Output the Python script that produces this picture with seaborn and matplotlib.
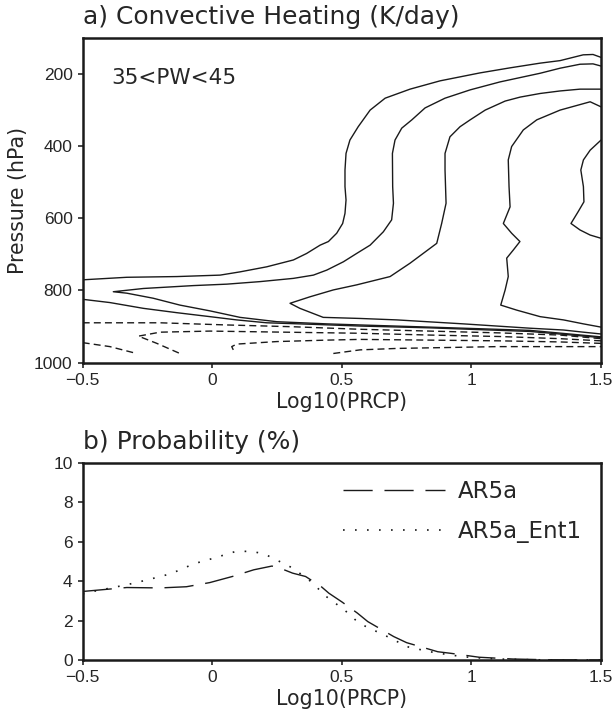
import matplotlib
matplotlib.use("Agg")
import matplotlib.pyplot as plt
import seaborn as sns

# panel a: contour lines, x = log10(prcp), p = hPa
# solid (heating) contours, outermost first
pos_a_upper_x = [-0.5, -0.33, -0.137, 0.03, 0.107, 0.21, 0.313, 0.364, 0.416, 0.448, 0.48,
                 0.503, 0.512, 0.516, 0.512, 0.512, 0.516, 0.531, 0.563, 0.582, 0.609, 0.667,
                 0.763, 0.879, 1.033, 1.149, 1.265, 1.342, 1.431, 1.469, 1.5]
pos_a_upper_p = [771, 764, 762, 758, 749, 735, 716, 698, 675, 665, 642,
                 615, 587, 550, 513, 467, 421, 384, 347, 328, 301, 268,
                 243, 220, 198, 184, 171, 164, 148, 147, 155]
pos_a_lower_x = [-0.5, -0.395, -0.266, -0.137, -0.009, 0.094, 0.21, 0.377, 0.57, 0.84, 1.226, 1.5]
pos_a_lower_p = [825, 834, 850, 862, 873, 882, 890, 894, 899, 904, 914, 931]
pos_b_x = [1.5, 1.226, 0.84, 0.57, 0.442, 0.249, 0.107, -0.009, -0.125, -0.228, -0.33, -0.382,
           -0.266, -0.073, 0.056, 0.184, 0.313, 0.39, 0.442, 0.506, 0.557, 0.609, 0.66, 0.692,
           0.699, 0.696, 0.695, 0.705, 0.731, 0.77, 0.821, 0.898, 0.995, 1.11, 1.265, 1.342,
           1.419, 1.469, 1.5]
pos_b_p = [929, 911, 902, 896, 893, 887, 875, 857, 841, 822, 808, 804,
           795, 787, 783, 776, 767, 758, 744, 721, 698, 675, 638, 605,
           559, 513, 421, 384, 351, 328, 295, 268, 245, 223, 199, 185,
           174, 173, 179]
pos_c_x = [1.5, 1.432, 1.355, 1.226, 0.969, 0.712, 0.57, 0.428, 0.338, 0.3, 0.377, 0.467,
           0.557, 0.686, 0.763, 0.866, 0.885, 0.902, 0.898, 0.898, 0.917, 0.956, 0.995,
           1.053, 1.13, 1.188, 1.265, 1.342, 1.419, 1.5]
pos_c_p = [921, 916, 910, 905, 893, 882, 878, 875, 850, 836, 818, 799,
           785, 762, 725, 670, 615, 559, 467, 421, 375, 347, 328,
           301, 276, 265, 255, 248, 243, 243]
pos_d_x = [1.5, 1.432, 1.355, 1.265, 1.175, 1.113, 1.13, 1.142, 1.136, 1.162, 1.187,
           1.155, 1.123, 1.149, 1.145, 1.142, 1.155, 1.2, 1.252, 1.342, 1.458, 1.5]
pos_d_p = [902, 893, 882, 873, 855, 841, 799, 762, 711, 688, 665,
           642, 615, 569, 513, 439, 402, 356, 328, 301, 278, 292]
pos_e_x = [1.5, 1.458, 1.419, 1.384, 1.412, 1.434, 1.432, 1.422, 1.432, 1.458, 1.5]
pos_e_p = [656, 647, 633, 615, 582, 555, 513, 467, 439, 412, 384]

# dashed (cooling) contours near the surface
neg_1_x = [-0.5, -0.202, 0.056, 0.313, 0.57, 0.84, 1.11, 1.342, 1.5]
neg_1_p = [890, 890, 896, 901, 908, 913, 918, 924, 934]
neg_2_x = [1.5, 1.342, 1.11, 0.84, 0.57, 0.377, 0.184, -0.009, -0.202, -0.285, -0.214, -0.125]
neg_2_p = [940, 934, 928, 924, 919, 917, 915, 913, 916, 927, 947, 975]
neg_3_x = [-0.5, -0.395, -0.292]
neg_3_p = [945, 956, 975]
neg_4_x = [0.081, 0.075, 0.094, 0.249, 0.442, 0.57, 0.84, 1.11, 1.342, 1.5]
neg_4_p = [965, 956, 949, 942, 938, 936, 938, 940, 943, 947]
neg_5_x = [0.467, 0.57, 0.712, 1.098, 1.342, 1.5]
neg_5_p = [975, 965, 961, 956, 956, 956]

solid_contours = [(pos_a_upper_x, pos_a_upper_p), (pos_a_lower_x, pos_a_lower_p),
                  (pos_b_x, pos_b_p), (pos_c_x, pos_c_p), (pos_d_x, pos_d_p),
                  (pos_e_x, pos_e_p)]
dashed_contours = [(neg_1_x, neg_1_p), (neg_2_x, neg_2_p), (neg_3_x, neg_3_p),
                   (neg_4_x, neg_4_p), (neg_5_x, neg_5_p)]

# panel b: probability (%)
prcp_ar5a = [-0.5, -0.33, -0.20, -0.10, -0.01, 0.08, 0.16, 0.23, 0.26, 0.31, 0.36, 0.42,
             0.45, 0.50, 0.56, 0.60, 0.70, 0.75, 0.87, 0.92, 1.03, 1.16, 1.30, 1.5]
prob_ar5a = [3.48, 3.68, 3.66, 3.72, 3.93, 4.25, 4.58, 4.77, 4.67, 4.41, 4.24, 3.73,
             3.39, 2.95, 2.38, 1.95, 1.19, 0.88, 0.42, 0.34, 0.14, 0.05, 0.01, 0.0]
prcp_ent1 = [-0.5, -0.46, -0.33, -0.25, -0.16, -0.07, 0.0, 0.09, 0.15, 0.20, 0.26, 0.31,
             0.38, 0.44, 0.51, 0.55, 0.58, 0.69, 0.75, 0.84, 0.92, 0.99, 1.10, 1.25, 1.5]
prob_ent1 = [3.36, 3.48, 3.82, 4.07, 4.38, 4.89, 5.15, 5.51, 5.52, 5.39, 5.0, 4.67,
             3.99, 3.22, 2.54, 2.06, 1.78, 1.10, 0.68, 0.42, 0.25, 0.14, 0.05, 0.01, 0.0]

prcp_ticks = [-0.5, 0, 0.5, 1, 1.5]
prcp_tick_labels = ["\u22120.5", "0", "0.5", "1", "1.5"]
pressure_ticks = [200, 400, 600, 800, 1000]
prob_ticks = [0, 2, 4, 6, 8, 10]

sns.set_style("ticks")
plt.rcParams["font.family"] = ["DejaVu Sans"]
plt.rcParams["axes.linewidth"] = 1.8
plt.rcParams["xtick.major.width"] = 1.2
plt.rcParams["ytick.major.width"] = 1.2
plt.rcParams["xtick.major.size"] = 3.8
plt.rcParams["ytick.major.size"] = 3.8
plt.rcParams["axes.edgecolor"] = "#1a1a1a"

INK = "#1a1a1a"
TICK_FONT = "Liberation Sans"
LABEL_SIZE = 14.8

fig = plt.figure(figsize=(6.15, 7.09), dpi=100)
ax_a = fig.add_axes([0.1345, 0.4887, 0.8428, 0.4584])
ax_b = fig.add_axes([0.1345, 0.0691, 0.8428, 0.2778])

for cx, cp in solid_contours:
    sns.lineplot(x=cx, y=cp, sort=False, estimator=None, color=INK,
                 linewidth=1.0, ax=ax_a)
for cx, cp in dashed_contours:
    sns.lineplot(x=cx, y=cp, sort=False, estimator=None, color=INK,
                 linewidth=1.0, linestyle=(0, (5, 3)), ax=ax_a)

ax_a.set_xlim(-0.5, 1.5)
ax_a.set_ylim(1000, 100)
ax_a.set_yticks(pressure_ticks)
ax_a.set_yticklabels([str(t) for t in pressure_ticks])
ax_a.set_ylabel("Pressure (hPa)", fontsize=LABEL_SIZE, labelpad=4)
ax_a.text(0.055, 0.875, "35<PW<45", transform=ax_a.transAxes, fontsize=15.5,
          ha="left", va="center")

sns.lineplot(x=prcp_ar5a, y=prob_ar5a, sort=False, estimator=None, color=INK,
             linewidth=1.0, linestyle=(0, (21, 8.5)), label="AR5a", ax=ax_b)
sns.lineplot(x=prcp_ent1, y=prob_ent1, sort=False, estimator=None, color=INK,
             linewidth=1.2, linestyle=(0, (1, 6.2)), label="AR5a_Ent1", ax=ax_b)
ax_b.set_xlim(-0.5, 1.5)
ax_b.set_ylim(0, 10)
ax_b.set_yticks(prob_ticks)
ax_b.set_yticklabels([str(t) for t in prob_ticks])
ax_b.set_ylabel("")
ax_b.legend(loc="upper left", bbox_to_anchor=(0.502, 0.916), frameon=False,
            fontsize=16.5, handlelength=4.45, handletextpad=0.57, labelspacing=0.78,
            borderpad=0, borderaxespad=0)

for ax in (ax_a, ax_b):
    ax.set_xticks(prcp_ticks)
    ax.set_xticklabels(prcp_tick_labels)
    ax.set_xlabel("Log10(PRCP)", fontsize=LABEL_SIZE, labelpad=3)
    ax.tick_params(axis="both", direction="out", pad=3.5, labelsize=12.5)
    for lab in ax.get_xticklabels() + ax.get_yticklabels():
        lab.set_fontfamily(TICK_FONT)
    for side in ("top", "right", "left", "bottom"):
        ax.spines[side].set_visible(True)

fig.text(0.1345, 0.976, "a) Convective Heating (K/day)", fontsize=18, ha="left", va="center")
fig.text(0.1345, 0.3766, "b) Probability (%)", fontsize=18, ha="left", va="center")

fig.savefig("out.png", dpi=100)
